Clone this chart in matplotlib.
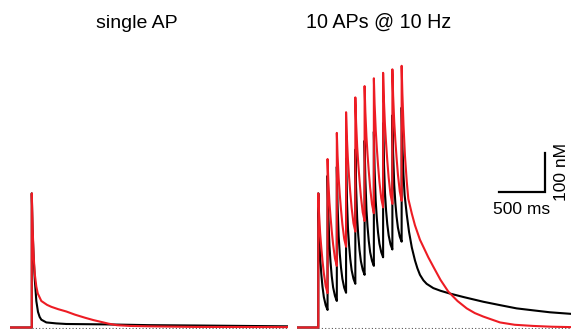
import numpy as np
import matplotlib
matplotlib.use("Agg")
import matplotlib.pyplot as plt

plt.rcParams['font.family'] = ['Liberation Sans', 'DejaVu Sans']

RED = '#ed1c24'

# ---- single AP (time in ms, [Ca] above rest in nM) ----
single_t_black = [0, 235, 235, 243, 255, 267, 284, 302, 320, 338, 392, 500, 608,
                  1026, 1500, 2052, 3000]
single_black = [0, 0, 344, 254, 180, 125, 68, 40, 27, 20, 13, 10.5, 9,
                8, 6, 5, 3]
single_t_red = [0, 235, 235, 245, 255, 267, 284, 300, 338, 400, 446, 520, 608,
                700, 810, 900, 972, 1060, 1152, 1300, 1512, 2000, 3000]
single_red = [0, 0, 344, 250, 185, 138, 105, 87, 68, 58, 53, 47, 41,
              33, 25, 19, 15, 10, 6, 4, 3, 1.5, 1]

# ---- 10 APs @ 10 Hz ----
spike_times = [230, 330, 430, 530, 630, 730, 830, 930, 1030, 1130]
isi_offsets = [0, 8, 20, 32, 45, 60, 80, 100]   # sample points inside each interval

# values read at isi_offsets for each of the first 9 intervals
train_red = [
    [344, 293, 242, 206, 172, 139, 106, 88],
    [432, 377, 322, 284, 248, 213, 177, 158],
    [499, 441, 382, 341, 303, 265, 227, 207],
    [552, 491, 430, 387, 347, 307, 267, 246],
    [590, 527, 463, 419, 378, 336, 295, 273],
    [619, 554, 489, 443, 401, 358, 316, 293],
    [639, 573, 507, 460, 417, 374, 331, 308],
    [653, 586, 519, 472, 428, 384, 341, 317],
    [662, 595, 527, 480, 436, 392, 349, 325],
]
train_black = [
    [344, 254, 180, 138, 105, 78, 57, 45],
    [389, 293, 212, 168, 132, 103, 81, 68],
    [412, 315, 234, 189, 154, 125, 102, 89],
    [433, 337, 256, 212, 176, 147, 125, 112],
    [456, 360, 279, 235, 199, 170, 148, 135],
    [479, 383, 302, 258, 222, 193, 171, 158],
    [502, 405, 325, 280, 244, 215, 193, 180],
    [524, 427, 346, 300, 265, 236, 213, 200],
    [544, 447, 366, 320, 285, 256, 233, 220],
]
# decay after the last AP
tail_t_red = [1130, 1138, 1150, 1166, 1185, 1202, 1240, 1274, 1328, 1418, 1472,
              1550, 1634, 1733, 1833, 1920, 2012, 2192, 2350, 2552, 2750, 2959]
tail_red = [671, 600, 520, 440, 375, 330, 292, 262, 225, 180, 156,
            122, 92, 68, 49, 37, 28, 13, 7, 4, 2, 1]
tail_t_black = [1130, 1138, 1150, 1162, 1185, 1210, 1240, 1274, 1300, 1328, 1365,
                1400, 1472, 1552, 1652, 1800, 2012, 2200, 2372, 2550, 2732, 2959]
tail_black = [564, 470, 390, 340, 290, 245, 205, 172, 152, 135, 121,
              112, 101, 94, 87, 78, 66, 57, 49, 44, 39, 35]


def build_train(intervals, tail_t, tail_v):
    t = [0, spike_times[0]]
    v = [0, 0]
    for k, vals in enumerate(intervals):
        t += [spike_times[k] + o for o in isi_offsets]
        v += vals
    t += tail_t
    v += tail_v
    return t, v


fig = plt.figure(figsize=(5.71, 3.29), dpi=100)
ylo, yhi = -1.5 / 0.39, (329 - 1.5) / 0.39

ax1 = fig.add_axes([10 / 571, 0, 278 / 571, 1])
ax2 = fig.add_axes([297 / 571, 0, 274 / 571, 1])

ax1.plot(single_t_black, single_black, color='black', lw=1.5, zorder=2)
ax1.plot(single_t_red, single_red, color=RED, lw=1.5, zorder=3)
ax1.plot([235, 3000], [0, 0], color='#555555', lw=0.8, ls=(0, (1, 2)), zorder=1)
ax1.set_xlim(0, 3000)

tb, vb = build_train(train_black, tail_t_black, tail_black)
tr, vr = build_train(train_red, tail_t_red, tail_red)
ax2.plot(tb, vb, color='black', lw=1.5, zorder=2)
ax2.plot(tr, vr, color=RED, lw=1.5, zorder=3)
ax2.plot([230, 2959], [0, 0], color='#555555', lw=0.8, ls=(0, (1, 2)), zorder=1)
ax2.set_xlim(0, 2959)

# scale bar: 500 ms, 100 nM
ax2.plot([2181, 2681, 2681], [348, 348, 448], color='black', lw=1.6,
         solid_joinstyle='miter', clip_on=False)

for ax in (ax1, ax2):
    ax.set_ylim(ylo, yhi)
    ax.axis('off')

fig.text(136.7 / 571, 1 - 28 / 329, 'single AP', ha='center', va='baseline', fontsize=14)
fig.text(378.7 / 571, 1 - 28 / 329, '10 APs @ 10 Hz', ha='center', va='baseline', fontsize=14.2)
fig.text(521.7 / 571, 1 - 214 / 329, '500 ms', ha='center', va='baseline', fontsize=12.5)
fig.text(562 / 571, 1 - 172 / 329, '100 nM', ha='center', va='center', rotation=90,
         fontsize=12.5)

fig.savefig('out.png', dpi=100)
